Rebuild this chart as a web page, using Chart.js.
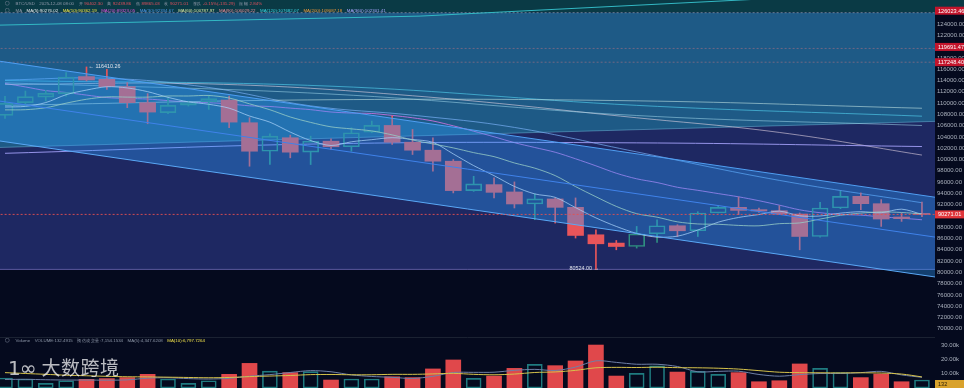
<!DOCTYPE html>
<html>
<head>
<meta charset="utf-8">
<script src="https://cdn.jsdelivr.net/npm/chart.js@4.4.1/dist/chart.umd.min.js"></script>
<style>
  html, body { margin: 0; padding: 0; background: #050a1e; }
  #wrap { position: relative; width: 964px; height: 388px; overflow: hidden; font-family: "Liberation Sans", Arial, sans-serif; }
  #price { position: absolute; left: 0; top: 0; }
  #vol { position: absolute; left: 0; top: 337px; }
  .hdr { position: absolute; font-size: 8.8px; line-height: 1; white-space: nowrap; color: #8f99aa;
         transform: scale(0.5); transform-origin: 0 0; }
  .hdr span { margin-right: 9px; }
  .hdr .v { color: #e2505c; font-weight: normal; }
  .ico { display: inline-block; width: 7px; height: 7px; border: 1px solid #7d8798; border-radius: 50%;
         vertical-align: -1px; margin-right: 12px !important; }
  #wm { position: absolute; left: 8px; top: 357px; color: rgba(255,255,255,0.72); white-space: nowrap; line-height: 1; }
  #wm .logo { font-family: "DejaVu Sans", sans-serif; font-size: 20px; letter-spacing: -1px; }
  #wm .name { font-family: "Noto Sans CJK SC", sans-serif; font-size: 19px; letter-spacing: 0.5px; margin-left: 6px; }
</style>
</head>
<body>
<div id="wrap">
  <canvas id="price" width="964" height="337"></canvas>
  <canvas id="vol" width="964" height="51"></canvas>

  <div class="hdr" style="left:5px; top:1.4px;">
    <span class="ico"></span><span>BTC/USD</span><span>2025-12-08 08:00</span><span>开 <b class="v">90402.30</b></span><span>高 <b class="v">92439.86</b></span><span>低 <b class="v">89865.03</b></span><span>收 <b class="v">90271.01</b></span><span>涨跌 <b class="v">-0.15%(-131.29)</b></span><span>振幅 <b class="v">2.84%</b></span>
  </div>
  <div class="hdr" style="left:5px; top:7.8px;">
    <span class="ico"></span><span>MA</span><span style="color:#e6e8ee">MA(5):90276.02</span><span style="color:#efe04a">MA(10):90362.19</span><span style="color:#dc55dc">MA(20):89323.05</span><span style="color:#4f95ea">MA(30):92334.67</span><span style="color:#d9e6a6">MA(60):100787.97</span><span style="color:#f08c9c">MA(90):106029.22</span><span style="color:#3ad6e6">MA(120):107682.07</span><span style="color:#f09a3a">MA(200):109087.18</span><span style="color:#a9a6ff">MA(360):102301.41</span>
  </div>
  <div class="hdr" style="left:5px; top:338.4px;">
    <span class="ico"></span><span>Volume</span><span>VOLUME:132.4915</span><span>预估成交量:7,154.1534</span><span>MA(5):4,347.6208</span><span style="color:#efe04a">MA(10):6,797.7264</span>
  </div>
  <div id="wm"><span class="logo">1∞</span><span class="name">大数跨境</span></div>
</div>

<script>
// 日K：2025-10-24 ~ 2025-12-08
const dates = [
  "10-24", "10-25", "10-26", "10-27", "10-28", "10-29", "10-30", "10-31",
  "11-01", "11-02", "11-03", "11-04", "11-05", "11-06", "11-07", "11-08", "11-09", "11-10",
  "11-11", "11-12", "11-13", "11-14", "11-15", "11-16", "11-17", "11-18", "11-19", "11-20",
  "11-21", "11-22", "11-23", "11-24", "11-25", "11-26", "11-27", "11-28", "11-29", "11-30",
  "12-01", "12-02", "12-03", "12-04", "12-05", "12-06", "12-07", "12-08"
];
const opens = [107820, 110080, 111070, 111680, 114700, 114220, 112920, 110080, 108300, 109650,
  110190, 110540, 106520, 101470, 103860, 101300, 103250, 102260, 104850, 106040,
  103070, 101650, 99700, 94490, 95550, 94250, 92120, 93010, 91520, 86660,
  85190, 84580, 86840, 88260, 87370, 90520, 91520, 91110, 90930, 90340,
  86360, 91410, 93470, 92170, 89810, 90402.30];
const highs = [111200, 112140, 112270, 115410, 116410.26, 116000, 113630, 111680, 110970, 110360,
  111380, 111250, 107410, 104570, 104320, 104140, 103680, 105630, 106810, 107700,
  105330, 103860, 100000, 97030, 96740, 96030, 93900, 93190, 93190, 87550,
  85650, 88140, 89330, 88440, 90750, 91820, 93370, 91410, 91820, 90520,
  92410, 94360, 94080, 92890, 90520, 92439.86];
const lows = [107290, 109470, 110360, 111250, 113920, 112440, 109190, 106340, 108120, 109470,
  108890, 105630, 98810, 99110, 100300, 99110, 101780, 101470, 104740, 102660,
  100890, 97920, 94080, 94360, 93190, 91410, 89330, 88740, 86080, 80524.00,
  84000, 84300, 85290, 86360, 86360, 90520, 90220, 90630, 90220, 84000,
  86250, 91290, 91110, 88140, 89030, 89865.03];
const closes = [109950, 111150, 111730, 114630, 114100, 112920, 110080, 108410, 109600, 110080,
  110790, 106630, 101470, 104140, 101300, 103250, 102260, 104740, 106040, 103070,
  101650, 99700, 94490, 95680, 94180, 92120, 93010, 91520, 86540, 85060,
  84580, 86790, 88260, 87370, 90520, 91520, 90980, 90880, 90340, 86360,
  91410, 93470, 92170, 89450, 89510, 90271.01];

const volumes = [7000, 6300, 3300, 5100, 6100, 6600, 7300, 9600, 6300, 3300,
  5100, 9600, 17300, 11900, 10800, 11500, 5600, 6300, 6300, 7900,
  7300, 13400, 19700, 6800, 8400, 13800, 16600, 15700, 19000, 30200,
  8400, 10300, 15500, 11200, 11700, 9600, 10800, 4400, 5100, 16900,
  13800, 10800, 7300, 9800, 4400, 5600];
const volMa5 = [6000, 6100, 5800, 5600, 5600, 5500, 5700, 6900, 7200, 6600,
  6300, 6800, 8300, 9400, 10900, 12200, 11400, 9200, 8100, 7500,
  6700, 8200, 10900, 11000, 11100, 12400, 13100, 12300, 14700, 19100,
  18000, 16700, 16700, 15100, 11400, 11700, 11800, 9500, 8300, 9400,
  10200, 10200, 10800, 11700, 9200, 7500];
const volMa10 = [10800, 10200, 9600, 9000, 8600, 8200, 7900, 7800, 7600, 7400,
  7200, 7400, 8000, 8400, 8800, 9400, 9500, 9300, 9300, 9600,
  9600, 9900, 10300, 9600, 9300, 9800, 10900, 11300, 12400, 14200,
  14500, 14400, 14600, 14300, 14200, 13900, 13300, 12200, 11100, 10800,
  10700, 10600, 10700, 10500, 9800, 7800];
const estimatedBar = 45;   // 最後一根為預估量，空心
const lastVolume = 132.4915;

const ma5 = [109310, 109420, 110090, 111490, 112310, 112900, 112690, 112030, 111020, 110220,
  109790, 109100, 107710, 106620, 104860, 103360, 102480, 103140, 103520, 103870,
  103550, 103040, 100990, 98920, 97140, 95230, 93900, 93300, 91470, 89650,
  88140, 86900, 86250, 86410, 87500, 88890, 89730, 90250, 90850, 90020,
  89990, 90490, 90750, 90570, 91200, 90276.02];
const ma10 = [108800, 108830, 109180, 109990, 110680, 111110, 111060, 111060, 111260, 111260,
  111350, 110900, 109870, 108820, 107540, 106580, 105790, 105430, 105070, 104370,
  103460, 102760, 102060, 101220, 100510, 99390, 98470, 97150, 95200, 93400,
  91690, 90400, 89780, 88950, 88580, 88520, 88320, 88250, 88630, 88760,
  89440, 90110, 90500, 90710, 90610, 90362.19];
const ma20 = [113490, 112870, 112220, 111880, 111420, 110980, 110830, 110720, 110440, 110180,
  110070, 109860, 109520, 109400, 109110, 108840, 108420, 108240, 108160, 107820,
  107400, 106830, 105970, 105020, 104030, 102990, 102130, 101290, 100130, 98880,
  97570, 96580, 95920, 95080, 94540, 93960, 93390, 92700, 91910, 91080,
  90570, 90260, 90140, 89830, 89600, 89323.05];
const ma30At = [0, 5, 10, 15, 20, 25, 31, 38, 45];
const ma30 = [114090, 114400, 112770, 109510, 107860, 105690, 101350, 96300, 92334.67];
const ma60At = [0, 10, 20, 31, 38, 45];
const ma60 = [113300, 113400, 111300, 107400, 104800, 100787.97];
const ma90At = [0, 16, 31, 45];
const ma90 = [113600, 111600, 107800, 106029.22];
const ma120At = [0, 16, 31, 45];
const ma120 = [114000, 113000, 109600, 107682.07];
const ma200At = [0, 16, 31, 45];
const ma200 = [109600, 110600, 110400, 109087.18];
const ma360At = [0, 16, 31, 45];
const ma360 = [101100, 102800, 102950, 102301.41];

// 價位線與區間
const athPrice = 126023.46;
const levelA = 119691.47;
const levelB = 117248.40;
const lastPrice = 90271.01;
const rangeLow = 80524.00;
const rangeHigh = 116410.26;

// 下降通道（兩端點）、區域分界線、上方趨勢線
const edgeAt = [-1, 47];
const channelTop = [117813, 92601];
const channelBottom = [103677, 78466];
const channelMid = [110745, 85534];
const zoneEdge = [102060, 106897];
const trendAt = [-0.245, 20.37, 37.05, 47];
const trendVals = [123822, 125422, 128445, 129690];

const priceTicks = [70000, 72000, 74000, 76000, 78000, 80000, 82000, 84000, 86000, 88000,
  90000, 92000, 94000, 96000, 98000, 100000, 102000, 104000, 106000, 108000,
  110000, 112000, 114000, 116000, 118000, 120000, 122000, 124000, 126000];
const volTicks = [10000, 20000, 30000];

const RED = "#e8555a";
const TEAL = "#2f8f80";
const VOL_RED = "#e0484b";
const VOL_TEAL = "#1f7b80";
const AXIS_FONT = { family: "Liberation Sans", size: 6 };
const NOTE_FONT = "5.4px 'Liberation Sans', 'DejaVu Sans', sans-serif";

const pts = (xs, ys) => xs.map((x, i) => ({ x, y: ys[i] }));
const seq = (ys) => ys.map((y, i) => ({ x: i, y }));

function line(data, color, extra) {
  return Object.assign({
    type: "line", data, borderColor: color, borderWidth: 1,
    pointRadius: 0, fill: false, tension: 0,
  }, extra || {});
}

const xScale = { type: "linear", min: -0.245, max: 45.64, display: false, offset: false };

// 蠟燭
const upBodies = [], downBodies = [], wickHi = [], wickLo = [], wickColors = [];
dates.forEach((d, i) => {
  const o = opens[i], c = closes[i];
  const isUp = c >= o;
  (isUp ? upBodies : downBodies).push({ x: i, y: [o, c] });
  wickHi.push({ x: i, y: [Math.max(o, c), highs[i]] });
  wickLo.push({ x: i, y: [lows[i], Math.min(o, c)] });
  wickColors.push(isUp ? TEAL : RED);
});

const datasets = [];
const add = (ds) => { datasets.push(ds); return datasets.length - 1; };

const iLow = add(line(pts(edgeAt, [rangeLow, rangeLow]), "rgba(150,140,230,0.55)",
  { backgroundColor: "#1e2862", order: 100 }));
const iAth = add(line(pts(edgeAt, [athPrice, athPrice]), "rgba(170,175,185,0.6)",
  { borderDash: [2, 2], order: 20 }));
datasets[iLow].fill = { target: iAth };
add(line(pts(edgeAt, zoneEdge), "rgba(120,190,225,0.45)",
  { fill: { target: iAth }, backgroundColor: "#1e5a86", order: 95 }));
add(line(pts(edgeAt, [levelA, levelA]), "rgba(210,120,130,0.45)", { borderDash: [2, 2], order: 20 }));
add(line(pts(edgeAt, [levelB, levelB]), "rgba(210,120,130,0.45)", { borderDash: [2, 2], order: 20 }));
add(line(pts(edgeAt, [lastPrice, lastPrice]), "rgba(230,80,80,0.9)", { borderDash: [2, 2], order: 4 }));

// 均線
add(line(pts(ma360At, ma360), "rgba(169,166,255,0.85)", { tension: 0.4, order: 60 }));
add(line(pts(ma200At, ma200), "rgba(190,225,225,0.6)", { tension: 0.4, order: 60 }));
add(line(pts(ma120At, ma120), "rgba(80,205,235,0.65)", { tension: 0.4, order: 60 }));
add(line(pts(ma90At, ma90), "rgba(160,215,235,0.55)", { tension: 0.4, order: 60 }));
add(line(pts(ma60At, ma60), "rgba(225,210,225,0.6)", { tension: 0.4, order: 60 }));
add(line(pts(ma30At, ma30), "rgba(120,175,245,0.7)", { tension: 0.4, order: 60 }));
add(line(seq(ma20), "rgba(205,115,225,0.85)", { tension: 0.3, order: 60 }));
add(line(seq(ma10), "rgba(210,230,165,0.8)", { tension: 0.3, order: 35 }));
add(line(seq(ma5), "rgba(236,238,244,0.75)", { tension: 0.3, order: 35 }));

add({ type: "bar", data: wickHi, backgroundColor: wickColors, borderWidth: 0, barThickness: 1, grouped: false, order: 42 });
add({ type: "bar", data: wickLo, backgroundColor: wickColors, borderWidth: 0, barThickness: 1, grouped: false, order: 42 });
add({ type: "bar", data: downBodies, backgroundColor: RED, borderWidth: 0, barThickness: 16,
  minBarLength: 1, grouped: false, order: 40 });
add({ type: "bar", data: upBodies, backgroundColor: "rgba(0,0,0,0)", borderColor: TEAL, borderWidth: 1,
  borderSkipped: false, barThickness: 16, minBarLength: 1, grouped: false, order: 40 });

// 通道（半透明蓋在 K 線上）
const iTop = add(line(pts(edgeAt, channelTop), "#4f9ef2",
  { backgroundColor: "rgba(44,157,255,0.36)", order: 10 }));
const iBot = add(line(pts(edgeAt, channelBottom), "#5aa8f6", { order: 9 }));
datasets[iTop].fill = { target: iBot };
add(line(pts(edgeAt, channelMid), "#3f82ea", { order: 9 }));
add(line(pts(trendAt, trendVals), "#33b9c4", { order: 5 }));

function tag(ctx, area, canvasW, y, text, bg, fg) {
  ctx.fillStyle = bg;
  ctx.fillRect(area.right, y - 4, canvasW - area.right, 8);
  ctx.fillStyle = fg;
  ctx.font = "5.6px 'Liberation Sans'";
  ctx.textAlign = "left";
  ctx.textBaseline = "middle";
  ctx.fillText(text, area.right + 3, y + 0.3);
}

const pricePlugin = {
  id: "pricePaint",
  beforeDraw(c) {
    const { ctx, width, height } = c;
    ctx.save();
    ctx.fillStyle = "#050a1e";
    ctx.fillRect(0, 0, width, height);
    ctx.fillStyle = "#0a3a45";
    ctx.fillRect(0, 0, width, c.scales.y.getPixelForValue(athPrice));
    ctx.restore();
  },
  afterDraw(c) {
    const { ctx, chartArea } = c;
    const xs = c.scales.x, ys = c.scales.y;
    ctx.save();
    ctx.font = NOTE_FONT;
    ctx.fillStyle = "#dfe3ea";
    ctx.textBaseline = "middle";
    const hi = highs.indexOf(rangeHigh);
    ctx.textAlign = "left";
    ctx.fillText("\u2190 " + rangeHigh.toFixed(2), xs.getPixelForValue(hi) + 2, ys.getPixelForValue(rangeHigh));
    const lo = lows.indexOf(rangeLow);
    ctx.textAlign = "right";
    ctx.fillText(rangeLow.toFixed(2) + " \u2192", xs.getPixelForValue(lo) + 3, ys.getPixelForValue(rangeLow) - 0.5);
    tag(ctx, chartArea, c.width, ys.getPixelForValue(athPrice) - 2, athPrice.toFixed(2), "#c3152c", "#ffffff");
    tag(ctx, chartArea, c.width, ys.getPixelForValue(levelA) - 1.5, levelA.toFixed(2), "#c3152c", "#ffffff");
    tag(ctx, chartArea, c.width, ys.getPixelForValue(levelB), levelB.toFixed(2), "#c3152c", "#ffffff");
    tag(ctx, chartArea, c.width, ys.getPixelForValue(lastPrice), lastPrice.toFixed(2), "#e0353b", "#ffffff");
    ctx.restore();
  },
};

new Chart(document.getElementById("price"), {
  type: "bar",
  data: { datasets },
  options: {
    responsive: false, animation: false, devicePixelRatio: 1, events: [],
    layout: { padding: 0 },
    plugins: { legend: { display: false }, tooltip: { enabled: false } },
    scales: {
      x: xScale,
      y: {
        type: "linear", position: "right", min: 68540, max: 128275,
        grid: { display: false, drawTicks: false }, border: { display: false },
        afterBuildTicks: (s) => { s.ticks = priceTicks.map((v) => ({ value: v })); },
        afterFit: (s) => { s.width = 29; s.paddingTop = 0; s.paddingBottom = 0; },
        ticks: { autoSkip: false, padding: 2, color: "#aab1bd", font: AXIS_FONT,
          callback: (v) => Number(v).toFixed(2) },
      },
    },
  },
  plugins: [pricePlugin],
});

// 成交量
const volUp = [], volDown = [];
volumes.forEach((v, i) => {
  const hollow = closes[i] >= opens[i] || i === estimatedBar;
  (hollow ? volUp : volDown).push({ x: i, y: v });
});

const volPlugin = {
  id: "volPaint",
  beforeDraw(c) {
    const { ctx, width, height, chartArea } = c;
    ctx.save();
    ctx.fillStyle = "#050a1e";
    ctx.fillRect(0, 0, width, height);
    ctx.strokeStyle = "#1b2232";
    ctx.beginPath();
    ctx.moveTo(0, 0.5);
    ctx.lineTo(chartArea.right, 0.5);
    ctx.stroke();
    ctx.restore();
  },
  afterDraw(c) {
    const { ctx, chartArea } = c;
    const y = Math.min(c.scales.y.getPixelForValue(lastVolume), c.height - 4);
    ctx.save();
    tag(ctx, chartArea, c.width, y, String(Math.round(lastVolume)), "#d9a22c", "#2a1c05");
    ctx.restore();
  },
};

new Chart(document.getElementById("vol"), {
  type: "bar",
  data: {
    datasets: [
      line(seq(volMa10), "#d6c24a", { tension: 0.3, order: 1 }),
      line(seq(volMa5), "#6f80a6", { tension: 0.3, order: 1 }),
      { type: "bar", data: volDown, backgroundColor: VOL_RED, borderWidth: 0, barThickness: 15, grouped: false, order: 5 },
      { type: "bar", data: volUp, backgroundColor: "rgba(0,0,0,0)", borderColor: VOL_TEAL, borderWidth: 1,
        borderSkipped: false, barThickness: 15, grouped: false, order: 5 },
    ],
  },
  options: {
    responsive: false, animation: false, devicePixelRatio: 1, events: [],
    layout: { padding: 0 },
    plugins: { legend: { display: false }, tooltip: { enabled: false } },
    scales: {
      x: xScale,
      y: {
        type: "linear", position: "right", min: 0, max: 35840,
        grid: { display: false, drawTicks: false }, border: { display: false },
        afterBuildTicks: (s) => { s.ticks = volTicks.map((v) => ({ value: v })); },
        afterFit: (s) => { s.width = 29; s.paddingTop = 0; s.paddingBottom = 0; },
        ticks: { autoSkip: false, padding: 6, color: "#aab1bd", font: AXIS_FONT,
          callback: (v) => (v / 1000).toFixed(2) + "k" },
      },
    },
  },
  plugins: [volPlugin],
});
</script>
</body>
</html>
